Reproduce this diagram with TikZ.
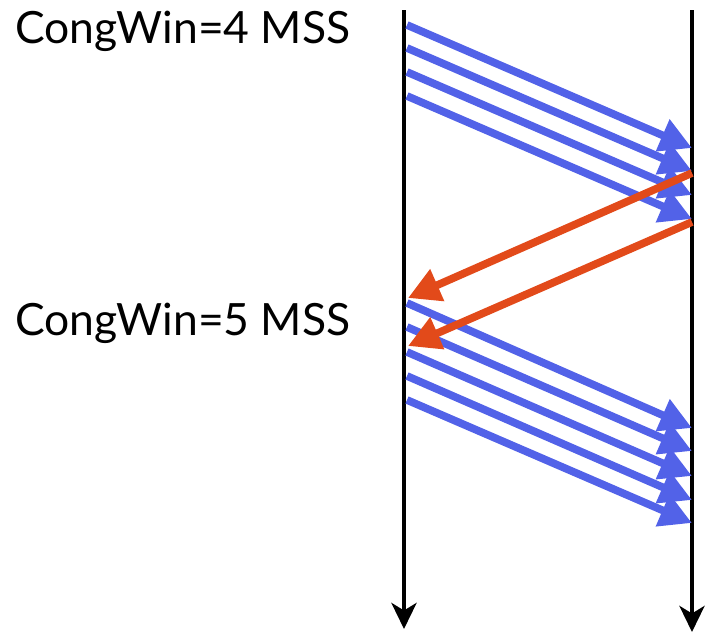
\documentclass[tikz,border=0pt]{standalone}
\usepackage{fontspec}
\setmainfont{Lato}
\usetikzlibrary{arrows.meta}
\definecolor{segblue}{RGB}{82,98,232}
\definecolor{ackred}{RGB}{226,74,26}

\begin{document}
\begin{tikzpicture}[
    every node/.style={font=\fontsize{25.3}{30}\selectfont, inner sep=0pt},
    timeline/.style={line width=2.8pt, black, -{Stealth[length=5.2mm, width=5mm, inset=1.5mm]}},
    segment/.style={line width=4.4pt, segblue, -{Triangle[length=6.4mm, width=6.6mm]}},
    ack/.style={line width=4.4pt, ackred, -{Triangle[length=6.4mm, width=6.6mm]}}]
\useasboundingbox (0,0) rectangle (14.1,-12.66);

% ==== Time lines (sender left, receiver right) ====
\coordinate (sTop) at (8.08, -0.2);
\coordinate (sBot) at (8.08, -12.58);
\coordinate (rTop) at (13.84, -0.2);
\coordinate (rBot) at (13.84, -12.64);
\draw[timeline] (sTop) -- (sBot);
\draw[timeline] (rTop) -- (rBot);

% ==== Window labels ====
\node[anchor=base west] (win4) at (0.30, -0.86) {CongWin=4 MSS};
\node[anchor=base west] (win5) at (0.30, -6.70) {CongWin=5 MSS};

% ==== First window: 4 segments ====
\coordinate (a1) at (8.14, -0.50);  \coordinate (b1) at (13.84, -2.96);
\coordinate (a2) at (8.14, -0.96);  \coordinate (b2) at (13.84, -3.42);
\coordinate (a3) at (8.14, -1.44);  \coordinate (b3) at (13.84, -3.90);
\coordinate (a4) at (8.14, -1.92);  \coordinate (b4) at (13.84, -4.38);
\draw[segment] (a1) -- (b1);
\draw[segment] (a2) -- (b2);
\draw[segment] (a3) -- (b3);
\draw[segment] (a4) -- (b4);

% ==== Second window: 5 segments ====
\coordinate (c1) at (8.14, -6.06);  \coordinate (d1) at (13.84, -8.56);
\coordinate (c2) at (8.14, -6.54);  \coordinate (d2) at (13.84, -9.02);
\coordinate (c3) at (8.14, -7.04);  \coordinate (d3) at (13.84, -9.52);
\coordinate (c4) at (8.14, -7.52);  \coordinate (d4) at (13.84, -10.00);
\coordinate (c5) at (8.14, -8.00);  \coordinate (d5) at (13.84, -10.46);
\draw[segment] (c1) -- (d1);
\draw[segment] (c2) -- (d2);
\draw[segment] (c3) -- (d3);
\draw[segment] (c4) -- (d4);
\draw[segment] (c5) -- (d5);

% ==== ACKs back to sender ====
\coordinate (e1) at (13.84, -3.46);  \coordinate (f1) at (8.16, -5.96);
\coordinate (e2) at (13.84, -4.44);  \coordinate (f2) at (8.16, -6.92);
\draw[ack] (e1) -- (f1);
\draw[ack] (e2) -- (f2);
\end{tikzpicture}
\end{document}
